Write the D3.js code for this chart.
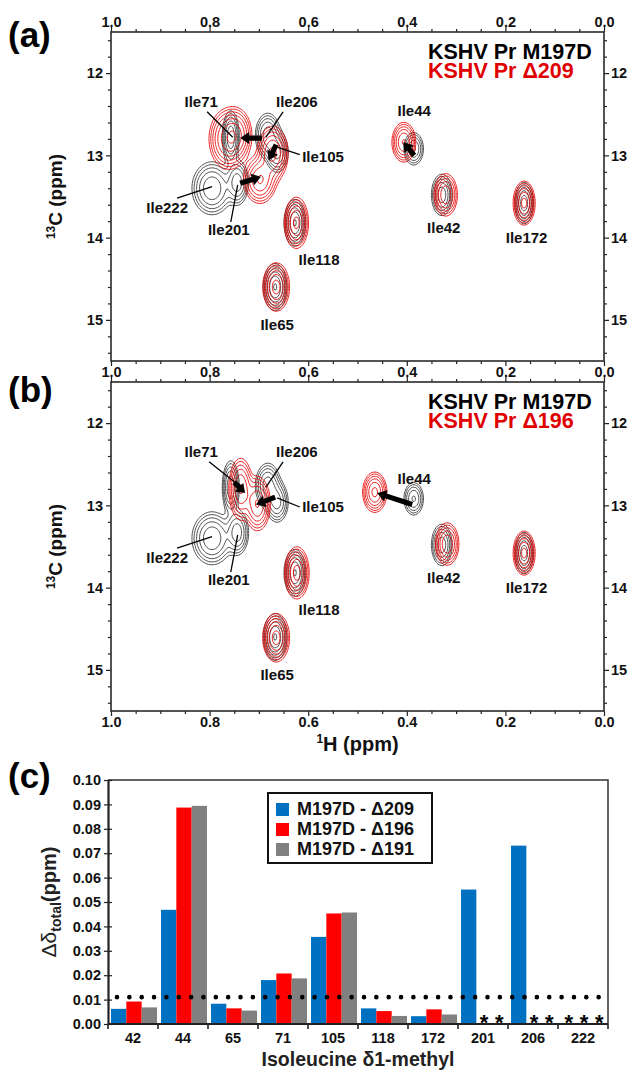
<!DOCTYPE html>
<html>
<head>
<meta charset="utf-8">
<script src="https://cdn.jsdelivr.net/npm/d3@7"></script>
<style>
  body { margin: 0; background: #fff; }
  svg { font-family: "Liberation Sans", Arial, sans-serif; font-weight: bold; }
  .tick text { font-size: 14.5px; font-family: "Liberation Sans", Arial, sans-serif; font-weight: bold; fill: #111; }
  .tick line { stroke: #222; stroke-width: 1.2; }
</style>
</head>
<body>
<div id="chart"></div>
<script>
(function() {
'use strict';

// ---- panel (c) data ----
const residues = ['42', '44', '65', '71', '105', '118', '172', '201', '206', '222'];
const seriesNames = ['M197D - \u0394209', 'M197D - \u0394196', 'M197D - \u0394191'];
const delta209 = [0.0062, 0.0468, 0.0083, 0.0180, 0.0357, 0.0064, 0.0032, 0.0551, 0.0731, null];
const delta196 = [0.0092, 0.0887, 0.0064, 0.0207, 0.0453, 0.0053, 0.0060, null, null, null];
const delta191 = [0.0068, 0.0894, 0.0055, 0.0187, 0.0457, 0.0033, 0.0039, null, null, null];
const cutoff = 0.011;
const yTicksC = [0, 0.01, 0.02, 0.03, 0.04, 0.05, 0.06, 0.07, 0.08, 0.09, 0.10];
const barColors = ['#0070c0', '#ff0000', '#808080'];

// ---- spectra (ppm) ----
const peakNames = ['Ile42', 'Ile44', 'Ile65', 'Ile71', 'Ile105', 'Ile118', 'Ile172', 'Ile201', 'Ile206', 'Ile222'];
// reference M197D (black, both panels)
const m197dH = [0.329, 0.386, 0.667, 0.757, 0.663, 0.627, 0.162, 0.744, 0.682, 0.795];
const m197dC = [13.48, 12.92, 14.60, 12.78, 12.96, 13.82, 13.58, 13.33, 12.76, 13.40];
const m197dAmp = [9, 7, 11, 10, 8, 11, 9, 9, 9, 10];
const m197dWH = [0.010, 0.010, 0.011, 0.008, 0.011, 0.010, 0.009, 0.011, 0.012, 0.019];
const m197dWC = [0.12, 0.10, 0.13, 0.15, 0.12, 0.13, 0.12, 0.13, 0.13, 0.15];
// KSHV Pr delta209 (red, panel a)
const d209H = [0.321, 0.406, 0.665, 0.762, 0.672, 0.624, 0.162, 0.698, 0.745, null];
const d209C = [13.48, 12.84, 14.60, 12.80, 12.98, 13.82, 13.58, 13.30, 12.74, null];
const d209Amp = [10, 11, 13, 14, 12, 12, 12, 11, 8, null];
const d209WH = [0.011, 0.011, 0.012, 0.017, 0.014, 0.011, 0.010, 0.015, 0.014, null];
const d209WC = [0.12, 0.11, 0.13, 0.16, 0.15, 0.14, 0.12, 0.13, 0.14, null];
// KSHV Pr delta196 (red, panel b)
const d196H = [0.318, 0.465, 0.665, 0.737, 0.703, 0.623, 0.162, null, null, null];
const d196C = [13.47, 12.84, 14.61, 12.80, 12.98, 13.82, 13.58, null, null, null];
const d196Amp = [10, 12, 13, 11, 11, 13, 12, null, null, null];
const d196WH = [0.011, 0.011, 0.012, 0.011, 0.012, 0.011, 0.010, null, null, null];
const d196WC = [0.12, 0.11, 0.13, 0.17, 0.15, 0.14, 0.12, null, null, null];

// label centres (ppm)
const labelH = [0.325, 0.385, 0.663, 0.817, 0.570, 0.578, 0.157, 0.761, 0.623, 0.886];
const labelCa = [13.88, 12.45, 15.06, 12.35, 13.02, 14.27, 14.00, 13.90, 12.35, 13.64];
const labelCb = [13.88, 12.67, 15.06, 12.35, 13.02, 14.27, 14.00, 13.90, 12.35, 13.64];

// leader lines [H1, C1, H2, C2]
const leadersA = [[0.805, 12.47, 0.753, 12.78], [0.651, 12.47, 0.686, 12.78], [0.617, 12.99, 0.663, 12.90],
                  [0.866, 13.52, 0.795, 13.38], [0.757, 13.81, 0.743, 13.36]];
const leadersB = [[0.801, 12.47, 0.736, 12.78], [0.651, 12.47, 0.686, 12.78], [0.617, 13.02, 0.663, 12.91],
                  [0.866, 13.52, 0.795, 13.38], [0.757, 13.81, 0.743, 13.36]];
// shift arrows [H from, C from, H to, C to]
const arrowsA = [[0.694, 12.79, 0.738, 12.79], [0.738, 13.34, 0.696, 13.26],
                 [0.665, 12.87, 0.680, 13.06], [0.385, 13.00, 0.407, 12.84]];
const arrowsB = [[0.750, 12.72, 0.728, 12.85], [0.667, 12.90, 0.706, 12.99], [0.389, 12.99, 0.460, 12.85]];

const hMajor = [1.0, 0.8, 0.6, 0.4, 0.2, 0.0];
const cMajor = [12, 13, 14, 15];

const svg = d3.select('#chart').append('svg')
  .attr('width', 629).attr('height', 1072);

const xH = d3.scaleLinear().domain([1.0, 0.0]).range([111, 604]);
const yA = d3.scaleLinear().domain([11.5, 15.5]).range([32, 361]);
const yB = d3.scaleLinear().domain([11.5, 15.5]).range([382, 711]);

const levels = d3.range(9).map((k) => Math.pow(1.6, k));

function styleAxis(g) {
  g.attr('font-size', null).attr('font-family', null);
  g.select('.domain').remove();
}

function ppmFrame(yS, bottomLabels) {
  const top = yS.range()[0], bot = yS.range()[1];
  const minorX = d3.range(0, 1.0001, 0.05).filter((v) => !hMajor.some((m) => Math.abs(m - v) < 1e-6));
  const minorY = d3.range(11.6, 15.5, 0.2).filter((v) => !cMajor.some((m) => Math.abs(m - v) < 1e-6));

  svg.append('g').attr('transform', `translate(0,${top})`)
    .call(d3.axisTop(xH).tickValues(hMajor).tickSize(5).tickPadding(0).tickFormat(d3.format('.1f')))
    .call(styleAxis);
  svg.append('g').attr('transform', `translate(0,${top})`)
    .call(d3.axisTop(xH).tickValues(minorX).tickSize(3).tickFormat(''))
    .call(styleAxis);
  svg.append('g').attr('transform', `translate(0,${bot})`)
    .call(d3.axisBottom(xH).tickValues(hMajor).tickSize(5).tickPadding(1)
      .tickFormat(bottomLabels ? d3.format('.1f') : ''))
    .call(styleAxis);
  svg.append('g').attr('transform', `translate(0,${bot})`)
    .call(d3.axisBottom(xH).tickValues(minorX).tickSize(3).tickFormat(''))
    .call(styleAxis);
  svg.append('g').attr('transform', `translate(${xH.range()[0]},0)`)
    .call(d3.axisLeft(yS).tickValues(cMajor).tickSize(5).tickPadding(3).tickFormat(d3.format('d')))
    .call(styleAxis);
  svg.append('g').attr('transform', `translate(${xH.range()[0]},0)`)
    .call(d3.axisLeft(yS).tickValues(minorY).tickSize(3).tickFormat(''))
    .call(styleAxis);
  svg.append('g').attr('transform', `translate(${xH.range()[1]},0)`)
    .call(d3.axisRight(yS).tickValues(cMajor).tickSize(5).tickPadding(2).tickFormat(d3.format('d')))
    .call(styleAxis);
  svg.append('g').attr('transform', `translate(${xH.range()[1]},0)`)
    .call(d3.axisRight(yS).tickValues(minorY).tickSize(3).tickFormat(''))
    .call(styleAxis);

  svg.append('rect')
    .attr('x', xH.range()[0]).attr('y', top)
    .attr('width', xH.range()[1] - xH.range()[0]).attr('height', bot - top)
    .attr('fill', 'none').attr('stroke', '#2a2a2a').attr('stroke-width', 1.6);
}

function drawSpectrum(yS, hs, cs, amps, wh, wc, color) {
  const step = 1.5;
  const left = xH.range()[0], top = yS.range()[0];
  const nx = Math.ceil((xH.range()[1] - left) / step) + 1;
  const ny = Math.ceil((yS.range()[1] - top) / step) + 1;
  const peaks = [];
  hs.forEach((h, i) => {
    if (h == null) return;
    peaks.push({
      x: xH(h) - left,
      y: yS(cs[i]) - top,
      sx: Math.abs(xH(h + wh[i]) - xH(h)),
      sy: Math.abs(yS(cs[i] + wc[i]) - yS(cs[i])),
      a: amps[i]
    });
  });
  const values = new Float64Array(nx * ny);
  for (let j = 0; j < ny; j++) {
    const py = j * step;
    for (let i = 0; i < nx; i++) {
      const px = i * step;
      let v = 0;
      for (const p of peaks) {
        const dx = (px - p.x) / p.sx, dy = (py - p.y) / p.sy;
        const r = dx * dx + dy * dy;
        if (r < 40) v += p.a * Math.exp(-0.5 * r);
      }
      values[j * nx + i] = v;
    }
  }
  const contours = d3.contours().size([nx, ny]).thresholds(levels)(values);
  svg.append('g')
    .attr('transform', `translate(${left - step / 2},${top - step / 2})`)
    .selectAll('path')
    .data(contours)
    .join('path')
      .attr('d', d3.geoPath(d3.geoIdentity().scale(step)))
      .attr('fill', 'none')
      .attr('stroke', color)
      .attr('stroke-width', 0.85);
}

function arrowPath(x1, y1, x2, y2) {
  const len = Math.hypot(x2 - x1, y2 - y1);
  const ux = (x2 - x1) / len, uy = (y2 - y1) / len;
  const nx = -uy, ny = ux;
  const hw = 2.6, head = Math.min(9, len * 0.55), hh = 6;
  const bx = x2 - ux * head, by = y2 - uy * head;
  const pts = [
    [x1 + nx * hw, y1 + ny * hw], [bx + nx * hw, by + ny * hw], [bx + nx * hh, by + ny * hh],
    [x2, y2],
    [bx - nx * hh, by - ny * hh], [bx - nx * hw, by - ny * hw], [x1 - nx * hw, y1 - ny * hw]
  ];
  return 'M' + pts.map((p) => p.join(',')).join('L') + 'Z';
}

function annotate(yS, labelC, leaders, arrows) {
  svg.append('g').selectAll('line')
    .data(leaders)
    .join('line')
      .attr('x1', (d) => xH(d[0])).attr('y1', (d) => yS(d[1]))
      .attr('x2', (d) => xH(d[2])).attr('y2', (d) => yS(d[3]))
      .attr('stroke', '#000').attr('stroke-width', 1.3);
  svg.append('g').selectAll('path')
    .data(arrows)
    .join('path')
      .attr('d', (d) => arrowPath(xH(d[0]), yS(d[1]), xH(d[2]), yS(d[3])))
      .attr('fill', '#000');
  svg.append('g').selectAll('text')
    .data(peakNames)
    .join('text')
      .attr('x', (d, i) => xH(labelH[i]))
      .attr('y', (d, i) => yS(labelC[i]))
      .attr('dy', '0.36em')
      .attr('text-anchor', 'middle')
      .attr('font-size', 15)
      .attr('fill', '#111')
      .text((d) => d);
}

function panelLegend(yS, redName) {
  const top = yS.range()[0];
  svg.append('text').attr('x', 428).attr('y', top + 27)
    .attr('font-size', 21.5).attr('fill', '#000').text('KSHV Pr M197D');
  svg.append('text').attr('x', 428).attr('y', top + 46)
    .attr('font-size', 21.5).attr('fill', '#e00000').text(redName);
}

function yTitle(yS) {
  const mid = (yS.range()[0] + yS.range()[1]) / 2;
  const t = svg.append('text')
    .attr('transform', `translate(62,${mid}) rotate(-90)`)
    .attr('text-anchor', 'middle')
    .attr('fill', '#111');
  t.append('tspan').attr('font-size', 12).attr('dy', -7).text('13');
  t.append('tspan').attr('font-size', 19).attr('dy', 7).text('C (ppm)');
}

// ---- panel (a) ----
ppmFrame(yA, false);
drawSpectrum(yA, m197dH, m197dC, m197dAmp, m197dWH, m197dWC, '#333');
drawSpectrum(yA, d209H, d209C, d209Amp, d209WH, d209WC, '#e60000');
annotate(yA, labelCa, leadersA, arrowsA);
panelLegend(yA, 'KSHV Pr \u0394209');
yTitle(yA);
svg.append('text').attr('x', 8).attr('y', 47).attr('font-size', 35).text('(a)');

// ---- panel (b) ----
ppmFrame(yB, true);
drawSpectrum(yB, m197dH, m197dC, m197dAmp, m197dWH, m197dWC, '#333');
drawSpectrum(yB, d196H, d196C, d196Amp, d196WH, d196WC, '#e60000');
annotate(yB, labelCb, leadersB, arrowsB);
panelLegend(yB, 'KSHV Pr \u0394196');
yTitle(yB);
svg.append('text').attr('x', 8).attr('y', 402).attr('font-size', 35).text('(b)');

const hTitle = svg.append('text')
  .attr('x', (xH.range()[0] + xH.range()[1]) / 2).attr('y', 751)
  .attr('text-anchor', 'middle').attr('fill', '#111');
hTitle.append('tspan').attr('font-size', 12).attr('dy', -8).text('1');
hTitle.append('tspan').attr('font-size', 20).attr('dy', 8).text('H (ppm)');

// ---- panel (c) ----
const x0 = d3.scaleBand().domain(residues).range([108, 608]);
const x1 = d3.scaleBand().domain(seriesNames).range([3, x0.bandwidth() - 1]);
const yC = d3.scaleLinear().domain([0, 0.10]).range([1024, 780]);
const seriesData = [delta209, delta196, delta191];

const cells = [];
residues.forEach((r, i) => {
  seriesNames.forEach((s, k) => {
    cells.push({ res: r, series: s, k: k, v: seriesData[k][i] });
  });
});

svg.append('g').selectAll('rect')
  .data(cells.filter((d) => d.v != null))
  .join('rect')
    .attr('x', (d) => x0(d.res) + x1(d.series))
    .attr('y', (d) => yC(d.v))
    .attr('width', x1.bandwidth())
    .attr('height', (d) => yC(0) - yC(d.v))
    .attr('fill', (d) => barColors[d.k]);

svg.append('g').selectAll('text')
  .data(cells.filter((d) => d.v == null))
  .join('text')
    .attr('x', (d) => x0(d.res) + x1(d.series) + x1.bandwidth() / 2)
    .attr('y', yC(0) + 6)
    .attr('text-anchor', 'middle')
    .attr('font-size', 22)
    .text('*');

// threshold dots
svg.append('line')
  .attr('x1', x0.range()[0] + 9).attr('x2', x0.range()[1])
  .attr('y1', yC(cutoff)).attr('y2', yC(cutoff))
  .attr('stroke', '#000').attr('stroke-width', 4.6)
  .attr('stroke-linecap', 'round').attr('stroke-dasharray', '0 12.35');

// frame
svg.append('path')
  .attr('d', `M${x0.range()[0]},${yC(0.10)}H${x0.range()[1]}V${yC(0)}`)
  .attr('fill', 'none').attr('stroke', '#333').attr('stroke-width', 1.5);

const yAxisC = svg.append('g').attr('transform', `translate(${x0.range()[0]},0)`)
  .call(d3.axisLeft(yC).tickValues(yTicksC).tickSizeInner(4).tickSizeOuter(0).tickPadding(3)
    .tickFormat(d3.format('.2f')));
yAxisC.attr('font-size', null).attr('font-family', null);
yAxisC.select('.domain').attr('stroke', '#222').attr('stroke-width', 2.2);
yAxisC.selectAll('.tick line').attr('x1', 4).attr('stroke-width', 1.6);

svg.append('line')
  .attr('x1', x0.range()[0]).attr('x2', x0.range()[1])
  .attr('y1', yC(0)).attr('y2', yC(0))
  .attr('stroke', '#222').attr('stroke-width', 2.2);

svg.append('g').selectAll('line')
  .data(residues.concat(['end']))
  .join('line')
    .attr('x1', (d) => d === 'end' ? x0.range()[1] : x0(d))
    .attr('x2', (d) => d === 'end' ? x0.range()[1] : x0(d))
    .attr('y1', yC(0)).attr('y2', yC(0) + 5)
    .attr('stroke', '#222').attr('stroke-width', 1.6);

svg.append('g').selectAll('text')
  .data(residues)
  .join('text')
    .attr('x', (d) => x0(d) + x0.bandwidth() / 2)
    .attr('y', yC(0) + 19)
    .attr('text-anchor', 'middle')
    .attr('font-size', 14.5)
    .attr('fill', '#111')
    .text((d) => d);

svg.append('text')
  .attr('x', (x0.range()[0] + x0.range()[1]) / 2).attr('y', 1066)
  .attr('text-anchor', 'middle').attr('font-size', 19.5).attr('fill', '#222')
  .text('Isoleucine \u03b41-methyl');

const cTitle = svg.append('text')
  .attr('transform', `translate(56,${(yC(0) + yC(0.10)) / 2}) rotate(-90)`)
  .attr('text-anchor', 'middle').attr('fill', '#222');
cTitle.append('tspan').attr('font-size', 21).attr('font-weight', 'normal').text('\u0394\u03b4');
cTitle.append('tspan').attr('font-size', 14).attr('dy', 5).text('total');
cTitle.append('tspan').attr('font-size', 20).attr('dy', -5).text('(ppm)');

svg.append('text').attr('x', 8).attr('y', 788).attr('font-size', 35).text('(c)');

// legend
const legend = svg.append('g').attr('transform', 'translate(268,793)');
legend.append('rect')
  .attr('width', 164).attr('height', 70)
  .attr('fill', '#fff').attr('stroke', '#111').attr('stroke-width', 2);
const rows = legend.selectAll('g.row')
  .data(seriesNames)
  .join('g')
    .attr('class', 'row')
    .attr('transform', (d, i) => `translate(8,${22 + i * 20})`);
rows.append('rect')
  .attr('y', -12).attr('width', 13).attr('height', 13)
  .attr('fill', (d, i) => barColors[i]);
rows.append('text')
  .attr('x', 21).attr('font-size', 18).attr('fill', '#111')
  .text((d) => d);

})();
</script>
</body>
</html>
